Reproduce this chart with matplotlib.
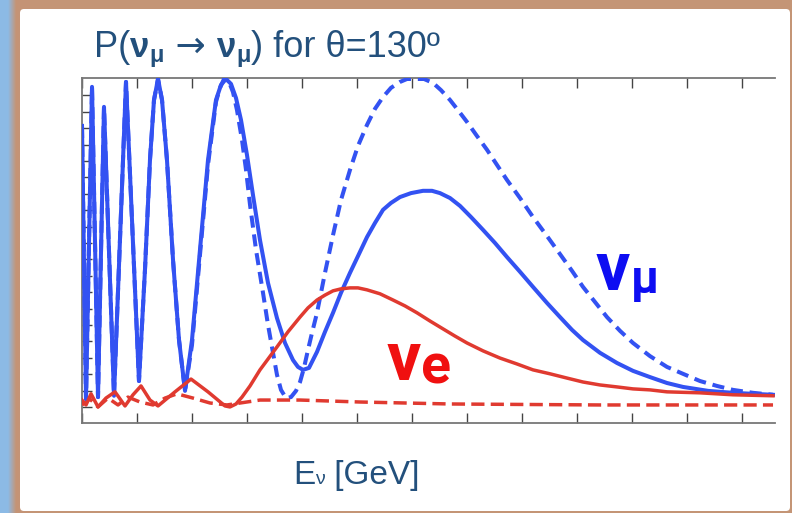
import numpy as np
import matplotlib
matplotlib.use("Agg")
import matplotlib.pyplot as plt
from matplotlib.patches import FancyBboxPatch

# ---- data: neutrino energy (tick units) and oscillation probabilities ----
e_mu_solid = [0.000, 0.073, 0.182, 0.291, 0.400, 0.582, 0.800, 1.036, 1.145, 1.236,
              1.309, 1.382, 1.455, 1.545, 1.655, 1.764, 1.873, 2.000, 2.145, 2.291,
              2.436, 2.527, 2.618, 2.709, 2.800, 2.891, 3.000, 3.109, 3.236, 3.382,
              3.545, 3.691, 3.836, 3.927, 4.018, 4.127, 4.273, 4.418, 4.564, 4.709,
              4.873, 5.018, 5.182, 5.327, 5.473, 5.618, 5.782, 5.982, 6.200, 6.364,
              6.509, 6.691, 6.873, 7.073, 7.291, 7.509, 7.727, 7.964, 8.200, 8.455,
              8.691, 8.909, 9.109, 9.418, 9.727, 10.018, 10.327, 10.636, 10.927, 11.382,
              11.836, 12.564]
p_mu_solid = [0.857, 0.024, 0.976, 0.030, 0.915, 0.034, 0.991, 0.079, 0.418, 0.753,
              0.936, 1.000, 0.936, 0.753, 0.448, 0.204, 0.049, 0.204, 0.479, 0.753,
              0.936, 0.982, 1.000, 0.985, 0.942, 0.875, 0.768, 0.646, 0.509, 0.378,
              0.271, 0.195, 0.143, 0.122, 0.113, 0.119, 0.168, 0.229, 0.287, 0.348,
              0.409, 0.460, 0.518, 0.561, 0.601, 0.622, 0.640, 0.652, 0.659, 0.659,
              0.652, 0.637, 0.613, 0.579, 0.540, 0.500, 0.457, 0.412, 0.366, 0.317,
              0.274, 0.235, 0.204, 0.165, 0.134, 0.110, 0.091, 0.073, 0.061, 0.049,
              0.043, 0.037]

e_mu_dashed = [0.000, 0.073, 0.182, 0.291, 0.400, 0.582, 0.800, 1.036, 1.145, 1.236,
               1.309, 1.382, 1.455, 1.545, 1.655, 1.764, 1.873, 2.000, 2.145, 2.291,
               2.436, 2.509, 2.582, 2.673, 2.745, 2.818, 2.909, 2.982, 3.055, 3.164,
               3.291, 3.382, 3.473, 3.545, 3.618, 3.709, 3.800, 3.891, 3.964, 4.036,
               4.109, 4.182, 4.273, 4.418, 4.564, 4.709, 4.873, 5.018, 5.182, 5.327,
               5.473, 5.618, 5.782, 5.909, 6.055, 6.218, 6.382, 6.527, 6.691, 6.836,
               7.000, 7.182, 7.364, 7.545, 7.727, 7.964, 8.200, 8.455, 8.691, 8.909,
               9.109, 9.327, 9.545, 9.782, 10.018, 10.327, 10.636, 10.927, 11.236, 11.545,
               11.836, 12.200, 12.564]
p_mu_dashed = [0.857, 0.024, 0.976, 0.030, 0.915, 0.034, 0.991, 0.079, 0.418, 0.753,
               0.936, 1.000, 0.936, 0.753, 0.448, 0.204, 0.049, 0.189, 0.463, 0.738,
               0.930, 0.973, 1.000, 0.991, 0.960, 0.905, 0.814, 0.723, 0.616, 0.479,
               0.348, 0.250, 0.165, 0.098, 0.052, 0.027, 0.030, 0.049, 0.076, 0.119,
               0.174, 0.226, 0.287, 0.409, 0.524, 0.631, 0.723, 0.796, 0.860, 0.909,
               0.945, 0.973, 0.991, 1.000, 1.000, 1.000, 0.988, 0.966, 0.936, 0.905,
               0.869, 0.826, 0.784, 0.738, 0.692, 0.637, 0.579, 0.521, 0.466, 0.415,
               0.366, 0.320, 0.274, 0.232, 0.195, 0.155, 0.122, 0.101, 0.079, 0.064,
               0.052, 0.043, 0.037]

e_e_solid = [0.000, 0.073, 0.164, 0.291, 0.436, 0.600, 0.782, 0.927, 1.073, 1.236,
             1.382, 1.691, 1.982, 2.291, 2.600, 2.691, 2.800, 2.909, 3.055, 3.236,
             3.382, 3.545, 3.745, 3.964, 4.109, 4.273, 4.418, 4.564, 4.709, 4.873,
             5.018, 5.182, 5.418, 5.655, 5.873, 6.091, 6.327, 6.564, 6.782, 7.000,
             7.291, 7.600, 7.909, 8.200, 8.509, 8.818, 9.109, 9.418, 9.727, 10.018,
             10.327, 10.636, 11.236, 11.836, 12.564]
p_e_solid = [0.021, 0.006, 0.040, 0.000, 0.027, 0.046, 0.003, 0.037, 0.064, 0.021,
             0.003, 0.046, 0.085, 0.046, 0.003, 0.000, 0.009, 0.030, 0.064, 0.113,
             0.146, 0.183, 0.229, 0.274, 0.302, 0.326, 0.341, 0.354, 0.360, 0.363,
             0.363, 0.357, 0.345, 0.326, 0.308, 0.287, 0.262, 0.238, 0.216, 0.195,
             0.171, 0.149, 0.131, 0.113, 0.101, 0.088, 0.076, 0.067, 0.061, 0.055,
             0.052, 0.046, 0.043, 0.037, 0.034]

e_e_dashed = [0.000, 0.145, 0.291, 0.473, 0.655, 0.836, 1.055, 1.291, 1.509, 1.727,
              2.018, 2.327, 2.636, 3.236, 3.964, 5.055, 6.691, 9.418, 12.564]
p_e_dashed = [0.006, 0.024, 0.000, 0.027, 0.006, 0.030, 0.015, 0.006, 0.027, 0.040,
              0.027, 0.012, 0.006, 0.021, 0.021, 0.015, 0.009, 0.006, 0.006]

x_ticks = list(range(13))
y_ticks = [round(0.05 * k, 2) for k in range(20)]

W, H, DPI = 792, 513, 100
BLUE = "#3352f2"
RED = "#e03a30"
TEXT = "#23507c"

fig = plt.figure(figsize=(W / DPI, H / DPI), dpi=DPI)
fig.patch.set_facecolor("#c49576")

# slide frame: blue strip on the left fading into the brown border, white panel
bg = fig.add_axes([0, 0, 1, 1], zorder=-5)
blue = np.array([0.55, 0.73, 0.90])
brown = np.array([0.77, 0.58, 0.46])
cols = np.linspace(0, 30, 61)
t = np.clip((cols - 8) / 8, 0, 1)[:, None]
grad = (1 - t) * blue + t * brown
bg.imshow(grad[None, :, :], extent=(0, 30, H, 0), aspect="auto", interpolation="bilinear")
bg.set_xlim(0, W)
bg.set_ylim(H, 0)
bg.axis("off")
panel = FancyBboxPatch((20, 9), 770, 502, boxstyle="round,pad=0,rounding_size=4",
                       facecolor="white", edgecolor="none")
bg.add_patch(panel)

ax = fig.add_axes([82 / W, 1 - 423 / H, 693 / W, 345 / H])
ax.set_facecolor("none")
ax.plot(e_mu_dashed, p_mu_dashed, color=BLUE, lw=2.9, ls=(0, (3.0, 1.7)), zorder=3)
ax.plot(e_mu_solid, p_mu_solid, color=BLUE, lw=2.9, zorder=4)
ax.plot(e_e_dashed, p_e_dashed, color=RED, lw=2.5, ls=(0, (3.8, 1.8)), zorder=3)
ax.plot(e_e_solid, p_e_solid, color=RED, lw=2.5, zorder=4)

ax.set_xlim(0, 12.6)
ax.set_ylim(-0.049, 1.003)
ax.set_xticks(x_ticks)
ax.set_yticks(y_ticks)
ax.tick_params(direction="in", length=7, width=1.0, color="#444444",
               top=True, right=False, labelbottom=False, labelleft=False)
for s in ("left", "top", "bottom"):
    ax.spines[s].set_color("#777777")
    ax.spines[s].set_linewidth(1.3)
ax.spines["right"].set_visible(False)

renderer = fig.canvas.get_renderer()


def run_text(x, y_base, pieces, family):
    """Draw text pieces left to right from pixel (x, baseline); dy shifts a piece down."""
    for piece in pieces:
        s, size, weight, color, dy = piece[:5]
        fam = piece[5] if len(piece) > 5 else family
        t = fig.text(x, H - (y_base + dy), s, transform=None, fontsize=size,
                     fontweight=weight, color=color, family=fam,
                     ha="left", va="baseline")
        x = t.get_window_extent(renderer).x1


sans = ["Liberation Sans", "DejaVu Sans"]
run_text(94, 57, [
    ("P(", 26, "normal", TEXT, 0),
    ("ν", 25, "bold", TEXT, 0),
    ("μ", 17, "bold", TEXT, 5),
    (" → ", 26, "normal", TEXT, 0, ["DejaVu Sans"]),
    ("ν", 25, "bold", TEXT, 0),
    ("μ", 17, "bold", TEXT, 5),
    (") for θ=130º", 26, "normal", TEXT, 0),
], sans)

run_text(293, 484, [
    ("E", 24, "normal", TEXT, 0),
    ("ν", 14, "normal", TEXT, 0),
    (" [GeV]", 24, "normal", TEXT, 0),
], sans)

lab = ["Roboto", "DejaVu Sans"]
run_text(596, 290, [
    ("ν", 49, "bold", "#0d0df2", 0),
    ("μ", 33, "bold", "#0d0df2", 3),
], lab)
run_text(387, 380, [
    ("ν", 49, "bold", "#f01010", 0),
    ("e", 40, "bold", "#f01010", 3),
], lab)

fig.savefig("out.png", dpi=DPI, facecolor=fig.get_facecolor())
